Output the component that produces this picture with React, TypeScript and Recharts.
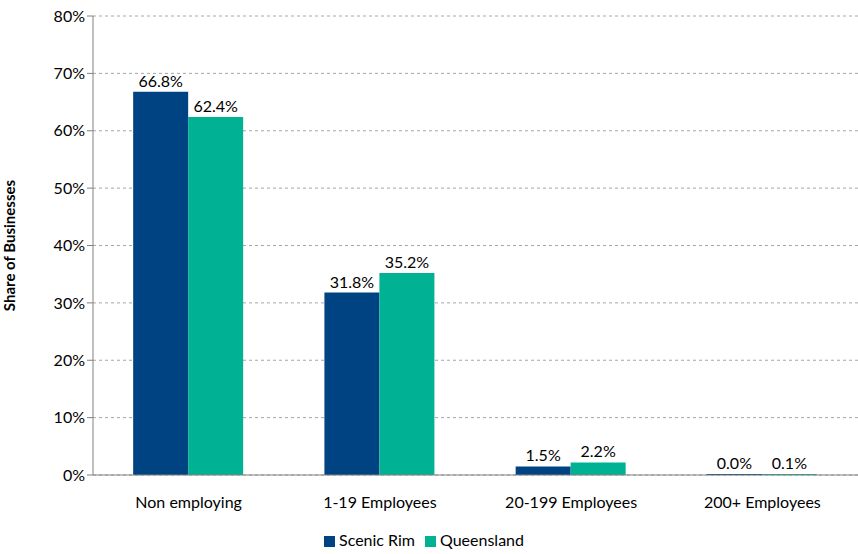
import { Bar, BarChart, CartesianGrid, LabelList, Legend, XAxis, YAxis } from 'recharts'

const categories = ['Non employing', '1-19 Employees', '20-199 Employees', '200+ Employees']
const scenicRim = [66.8, 31.8, 1.5, 0.0]
const queensland = [62.4, 35.2, 2.2, 0.1]
const yTicks = [0, 10, 20, 30, 40, 50, 60, 70, 80]

const data = categories.map((name, i) => ({ name, scenicRim: scenicRim[i], queensland: queensland[i] }))

const font = 'Lato, "Open Sans", sans-serif'
const fmt = (v: number) => `${Number(v).toFixed(1)}%`
const order: Record<string, number> = { 'Scenic Rim': 0, Queensland: 1 }

export default function App() {
	return (
		<div style={{ position: 'absolute', left: 0, top: 0, width: 858, height: 554, background: '#fff', fontFamily: font }}>
			<BarChart
				width={858}
				height={554}
				data={data}
				margin={{ top: 16, right: 0, left: 0, bottom: 0 }}
				barGap={0}
				barCategoryGap="21%"
			>
				<CartesianGrid vertical={false} strokeDasharray="3 3" stroke="#a6a6a6" />
				<XAxis
					dataKey="name"
					height={55}
					tickLine={false}
					axisLine={{ stroke: '#808080' }}
					tick={{ fill: '#000', fontSize: 16, fontFamily: font, dy: 14 }}
				/>
				<YAxis
					width={93}
					domain={[0, 80]}
					ticks={yTicks}
					tickFormatter={(v) => `${v}%`}
					axisLine={{ stroke: '#808080' }}
					tickLine={{ stroke: '#808080' }}
					tick={{ fill: '#000', fontSize: 16, fontFamily: font }}
					label={{
						value: 'Share of Businesses',
						angle: -90,
						position: 'insideLeft',
						offset: 10,
						style: { fontWeight: 'bold', fontSize: 15, fill: '#000', textAnchor: 'middle', fontFamily: font },
					}}
				/>
				<Legend
					verticalAlign="bottom"
					height={24}
					iconType="square"
					iconSize={11}
					itemSorter={(item: any) => order[item.value] ?? 0}
					wrapperStyle={{ fontSize: 16, fontFamily: font, color: '#000' }}
					formatter={(v) => <span style={{ color: '#000' }}>{v}</span>}
				/>
				<Bar dataKey="scenicRim" name="Scenic Rim" fill="#004382" minPointSize={1} isAnimationActive={false}>
					<LabelList dataKey="scenicRim" position="top" formatter={fmt} style={{ fill: '#000', fontSize: 16, fontFamily: font }} />
				</Bar>
				<Bar dataKey="queensland" name="Queensland" fill="#00b293" minPointSize={1} isAnimationActive={false}>
					<LabelList dataKey="queensland" position="top" formatter={fmt} style={{ fill: '#000', fontSize: 16, fontFamily: font }} />
				</Bar>
			</BarChart>
		</div>
	)
}
